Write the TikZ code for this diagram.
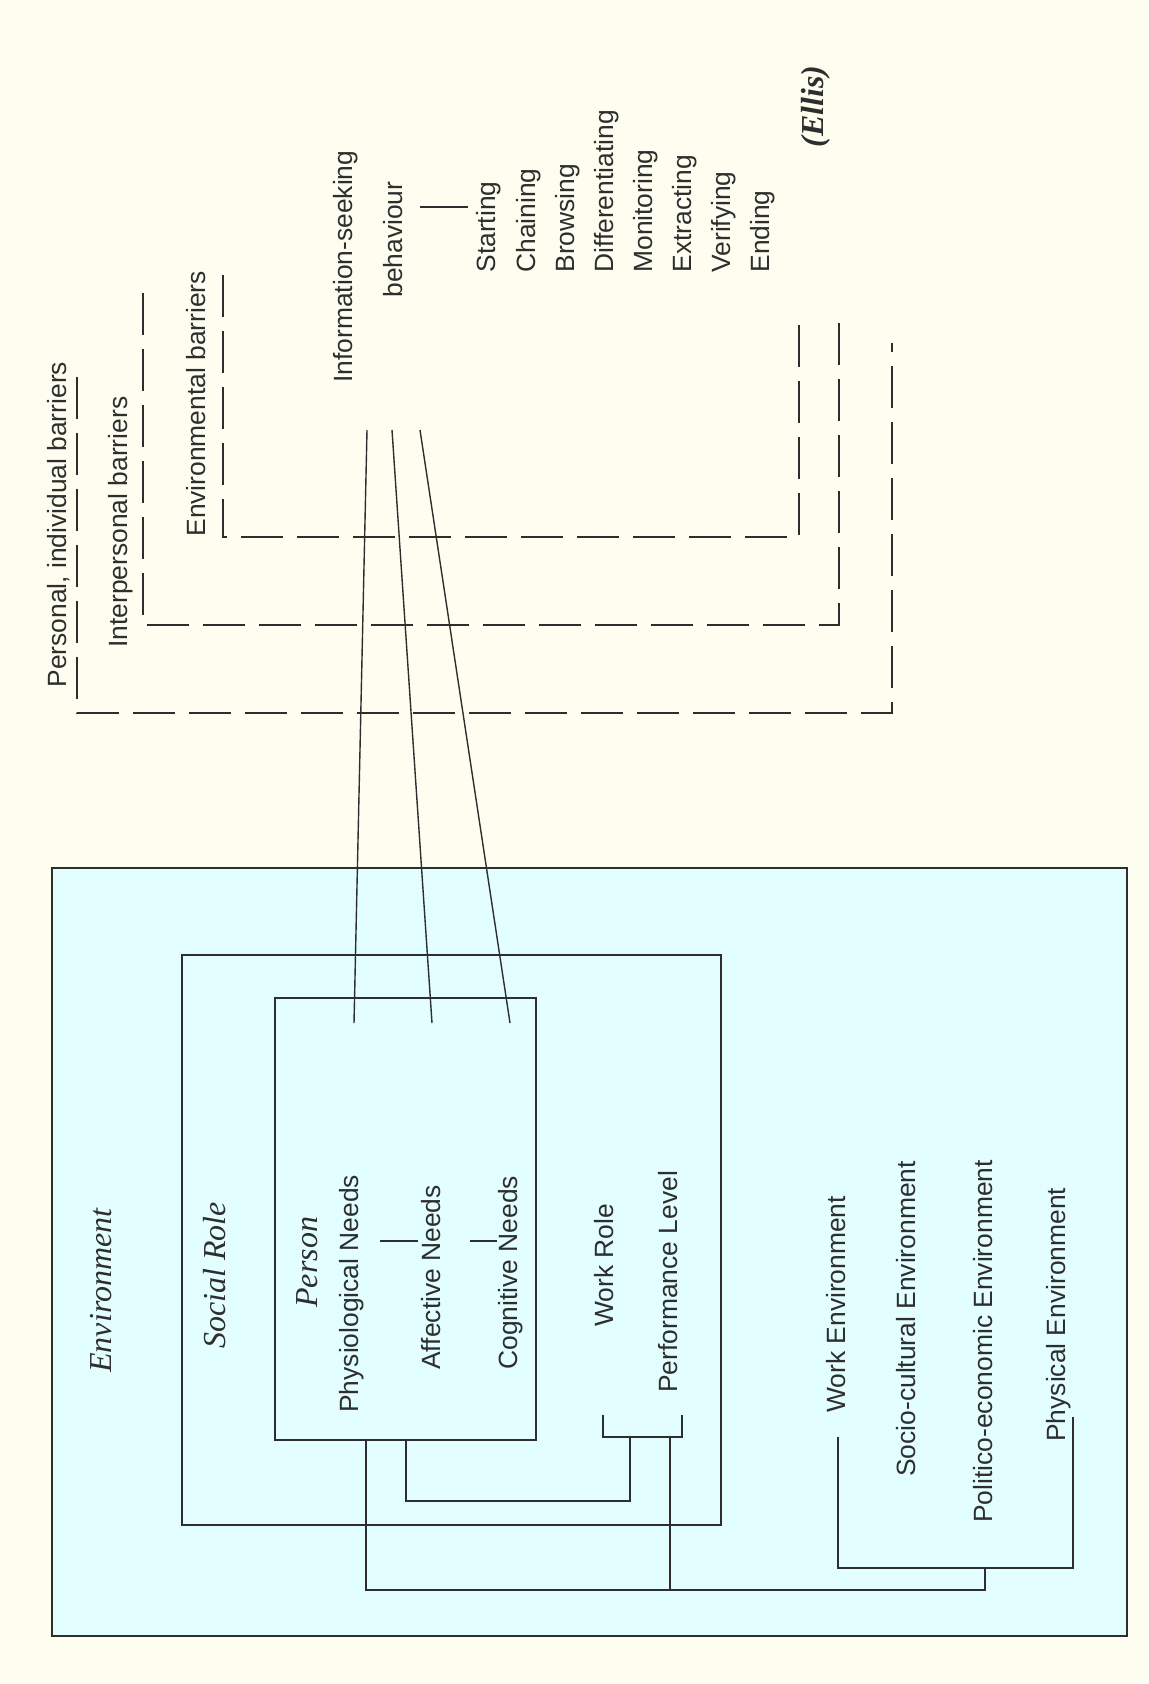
\documentclass[tikz,border=0pt]{standalone}
\usepackage{fontspec}
\setmainfont{Liberation Sans}
\newfontfamily\titlefont{Liberation Serif}
\definecolor{paper}{HTML}{FEFEF0}
\definecolor{envfill}{HTML}{E2FEFF}
\definecolor{ink}{HTML}{2E2E2E}

\begin{document}
\begin{tikzpicture}[x=0.5pt,y=-0.5pt,
  lbl/.style={rotate=90,anchor=west,inner sep=0pt,text=ink,
    font=\fontsize{13.2}{15}\selectfont,text height=0.72em,text depth=0.2em},
  ital/.style={lbl,font=\titlefont\itshape\fontsize{16}{18}\selectfont},
  barrier/.style={draw=ink,line width=1.4pt,dash pattern=on 21pt off 7pt},
  outerframe/.style={draw=ink,line width=1.2pt},
  frame/.style={draw=ink,line width=1pt},
  link/.style={draw=ink,line width=0.9pt},
  need/.style={draw=ink,line width=0.7pt}]

% page
\path[use as bounding box,fill=paper] (0,0) rectangle (1148,1684);

% ---------- barriers (dashed brackets) ----------
\node[lbl] (personal) at (61,688) {Personal, individual barriers};
\node[lbl] (interpersonal) at (122,648) {Interpersonal barriers};
\node[lbl] (environmental) at (200,537) {Environmental barriers};

\coordinate (pA) at (77,377);  \coordinate (pB) at (77,713);
\coordinate (pC) at (892,713); \coordinate (pD) at (892,343);
\coordinate (iA) at (143,293); \coordinate (iB) at (143,625);
\coordinate (iC) at (839,625); \coordinate (iD) at (839,320);
\coordinate (eA) at (223,275); \coordinate (eB) at (223,537);
\coordinate (eC) at (799,537); \coordinate (eD) at (799,320);
\draw[barrier] (pA) -- (pB) -- (pC) -- (pD);
\draw[barrier] (iA) -- (iB) -- (iC) -- (iD);
\draw[barrier] (eA) -- (eB) -- (eC) -- (eD);

% ---------- information-seeking behaviour (Ellis) ----------
\node[lbl] (infoseek) at (347,383) {Information-seeking};
\node[lbl] (behaviour) at (397,298) {behaviour};
\coordinate (bhA) at (420,207); \coordinate (bhB) at (468,207);
\draw[ink,line width=1.3pt] (bhA) -- (bhB);
\foreach \x/\nm/\t in {490/starting/Starting,530/chaining/Chaining,
    569/browsing/Browsing,608/differentiating/Differentiating,
    647/monitoring/Monitoring,686/extracting/Extracting,
    725/verifying/Verifying,764/ending/Ending}
  \node[lbl] (\nm) at (\x,273) {\t};
\node[lbl,font=\titlefont\bfseries\itshape\fontsize{16}{18}\selectfont] (ellis) at (818,148) {(Ellis)};

% ---------- environment / social role / person ----------
\coordinate (envTL) at (52,868);   \coordinate (envBR) at (1127,1636);
\coordinate (roleTL) at (182,955); \coordinate (roleBR) at (721,1525);
\coordinate (persTL) at (275,998); \coordinate (persBR) at (536,1440);
\fill[envfill] (envTL) rectangle (envBR);
\draw[frame] (roleTL) rectangle (roleBR);
\draw[frame] (persTL) rectangle (persBR);

\node[ital] (environment) at (106,1373) {Environment};
\node[ital] (socialrole) at (220,1349) {Social Role};
\node[ital] (person) at (312,1308) {Person};

\node[lbl] (physio) at (353,1413) {Physiological Needs};
\node[lbl] (affective) at (435,1370) {Affective Needs};
\node[lbl] (cognitive) at (512,1370) {Cognitive Needs};
\coordinate (t1a) at (380,1241); \coordinate (t1b) at (418,1241);
\coordinate (t2a) at (470,1241); \coordinate (t2b) at (497,1241);
\draw[ink,line width=1.3pt] (t1a) -- (t1b);
\draw[ink,line width=1.3pt] (t2a) -- (t2b);

\node[lbl] (workrole) at (608,1327) {Work Role};
\node[lbl] (performance) at (672,1393) {Performance Level};

\node[lbl] (workenv) at (840,1413) {Work Environment};
\node[lbl] (socioenv) at (910,1477) {Socio-cultural Environment};
\node[lbl] (politenv) at (987,1523) {Politico-economic Environment};
\node[lbl] (physenv) at (1060,1442) {Physical Environment};

% ---------- links from behaviour to needs ----------
\coordinate (s1) at (367,430); \coordinate (n1) at (354,1023);
\coordinate (s2) at (392,430); \coordinate (n2) at (432,1023);
\coordinate (s3) at (420,430); \coordinate (n3) at (510,1023);
\draw[need] (s1) -- (n1);
\draw[need] (s2) -- (n2);
\draw[need] (s3) -- (n3);

% ---------- role bracket and links ----------
\coordinate (wrA) at (603,1415); \coordinate (wrB) at (603,1437);
\coordinate (wrC) at (682,1437); \coordinate (wrD) at (682,1415);
\draw[link] (wrA) -- (wrB) -- (wrC) -- (wrD);

\coordinate (pb2) at (406,1440); \coordinate (pb2d) at (406,1501);
\coordinate (wr2d) at (630,1501); \coordinate (wr2) at (630,1437);
\draw[link] (pb2) -- (pb2d) -- (wr2d) -- (wr2);

\coordinate (perf) at (670,1437); \coordinate (perfd) at (670,1590);
\draw[link] (perf) -- (perfd);

% ---------- environment bracket and links ----------
\coordinate (weA) at (838,1437); \coordinate (weB) at (838,1568);
\coordinate (peB) at (1073,1568); \coordinate (peA) at (1073,1417);
\draw[link] (weA) -- (weB) -- (peB) -- (peA);

\coordinate (pb1) at (366,1440); \coordinate (pb1d) at (366,1590);
\coordinate (envd) at (985,1590); \coordinate (envs) at (985,1568);
\draw[link] (pb1) -- (pb1d) -- (envd) -- (envs);

% outer frame on top
\draw[outerframe] (envTL) rectangle (envBR);
\end{tikzpicture}
\end{document}
